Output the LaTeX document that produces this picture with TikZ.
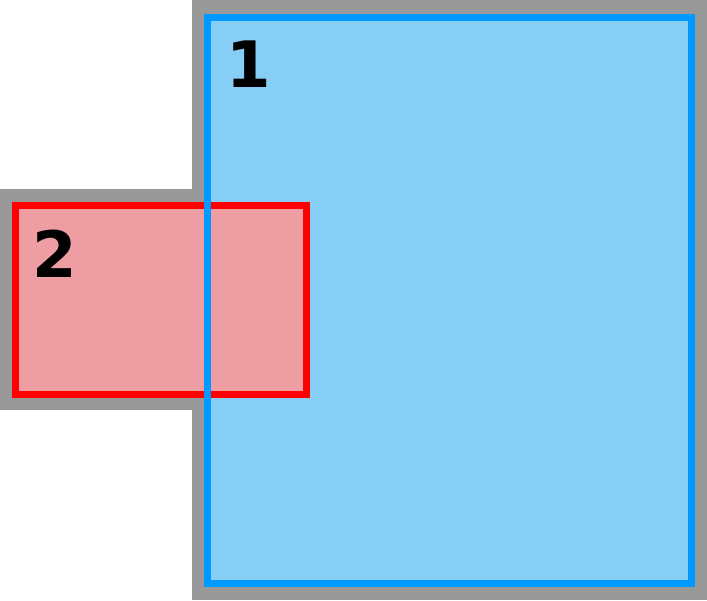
\documentclass[tikz,border=0pt]{standalone}
\usepackage{fontspec}
\newfontfamily\digitfont{DejaVu Sans}
\definecolor{frame}{RGB}{153,153,153}
\definecolor{skyfill}{RGB}{135,206,246}
\definecolor{skyline}{RGB}{0,153,255}
\definecolor{rosefill}{RGB}{238,157,162}
\tikzset{
    numlabel/.style={anchor=center, font=\digitfont\bfseries\fontsize{64}{64}\selectfont, text=black}
}
\begin{document}
\begin{tikzpicture}[x=1pt, y=-1pt]
    % the frame
    \useasboundingbox (0, 0) rectangle (707, 600);
    \fill[frame] (192, 0) rectangle (707, 600);
    \fill[frame] (0, 189) rectangle (322, 410);

    % the bodies
    \fill[skyfill] (207, 17) rectangle (691, 583);
    \draw[line width=7pt, red, fill=rosefill] (15, 205) rectangle (306, 394);
    \draw[line width=7pt, skyline] (207, 17) rectangle (691, 583);

    % the labels
    \node[numlabel] (one) at (249, 64) {1};
    \node[numlabel] (two) at (55, 254) {2};
\end{tikzpicture}
\end{document}
